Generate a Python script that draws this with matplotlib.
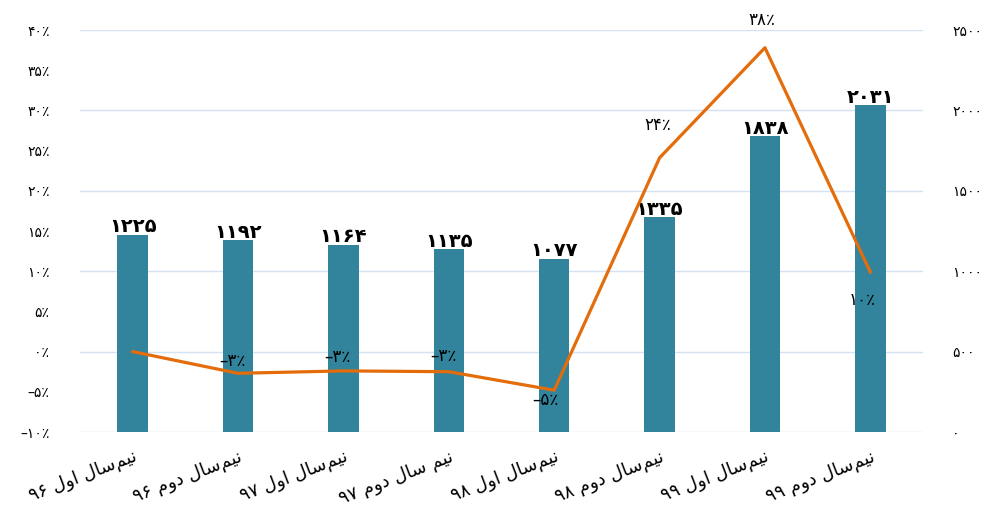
import matplotlib
matplotlib.use("Agg")
import matplotlib.pyplot as plt
from matplotlib.ticker import FuncFormatter, MultipleLocator

# داده ها
categories = ["نیم‌سال اول ۹۶", "نیم‌سال دوم ۹۶", "نیم‌سال اول ۹۷", "نیم سال دوم ۹۷",
              "نیم‌سال اول ۹۸", "نیم‌سال دوم ۹۸", "نیم‌سال اول ۹۹", "نیم‌سال دوم ۹۹"]
counts = [1225, 1192, 1164, 1135, 1077, 1335, 1838, 2031]
growth = [0.0, -2.7, -2.4, -2.5, -4.8, 24.1, 37.8, 9.9]
growth_labels = [None, -3, -3, -3, -5, 24, 38, 10]

# offsets of the growth labels (points)
label_offsets = [(0, 0), (-4, 9), (-4, 10), (-4, 11), (-6, -7), (-1, 24), (-2, 20), (-6, -20)]

FA_DIGITS = str.maketrans("0123456789-", "۰۱۲۳۴۵۶۷۸۹–")

# shaping of persian letters: (isolated, final, initial, medial)
FORMS = {
    "ن": ("\ufee5", "\ufee6", "\ufee7", "\ufee8"),
    "ی": ("\ufbfc", "\ufbfd", "\ufbfe", "\ufbff"),
    "م": ("\ufee1", "\ufee2", "\ufee3", "\ufee4"),
    "س": ("\ufeb1", "\ufeb2", "\ufeb3", "\ufeb4"),
    "ل": ("\ufedd", "\ufede", "\ufedf", "\ufee0"),
    "ا": ("\ufe8d", "\ufe8e", None, None),
    "و": ("\ufeed", "\ufeee", None, None),
    "د": ("\ufea9", "\ufeaa", None, None),
}
DUAL = {c for c, f in FORMS.items() if f[2] is not None}


def shape_word(word):
    out = []
    for i, ch in enumerate(word):
        if ch not in FORMS:
            continue
        prev = i > 0 and word[i - 1] in DUAL
        nxt = ch in DUAL and i + 1 < len(word) and word[i + 1] in FORMS
        iso, fin, ini, med = FORMS[ch]
        if prev and nxt:
            out.append(med)
        elif prev:
            out.append(fin)
        elif nxt:
            out.append(ini)
        else:
            out.append(iso)
    return "".join(reversed(out))


def rtl(text):
    words = text.split(" ")
    vis = []
    for w in reversed(words):
        if any(c in FORMS for c in w):
            vis.append(shape_word(w))
        else:
            vis.append(w)
    return " ".join(vis)


def fa(v, pct=False):
    s = str(v).translate(FA_DIGITS)
    return s + "٪" if pct else s


plt.rcParams["font.family"] = ["DejaVu Sans"]

fig = plt.figure(figsize=(9.93, 5.11), dpi=100)
ax = fig.add_axes([80 / 993, 79 / 511, 843 / 993, 402 / 511])
ax2 = ax.twinx()
ax.set_zorder(ax2.get_zorder() + 1)
ax.patch.set_visible(False)

x = list(range(len(categories)))

# ستون ها
bars = ax2.bar(x, counts, width=0.29, color="#31849B", zorder=2)
for xi, c in zip(x, counts):
    ax2.annotate(fa(c), (xi, c), xytext=(0, -1), textcoords="offset points",
                 ha="center", va="bottom", fontsize=14, fontweight="bold", color="black")

# خط رشد
ax.plot(x, growth, color="#E46C0A", linewidth=2.3, zorder=3)
for xi, g, lab, off in zip(x, growth, growth_labels, label_offsets):
    if lab is None:
        continue
    ax.annotate(fa(lab, True), (xi, g), xytext=off, textcoords="offset points",
                ha="center", va="center", fontsize=12, color="black")

ax.set_xlim(-0.5, len(categories) - 0.5)
ax.set_ylim(-10, 40)
ax2.set_ylim(0, 2500)
ax.yaxis.set_major_locator(MultipleLocator(5))
ax2.yaxis.set_major_locator(MultipleLocator(500))
ax.yaxis.set_major_formatter(FuncFormatter(lambda v, p: fa(int(round(v)), True)))
ax2.yaxis.set_major_formatter(FuncFormatter(lambda v, p: fa(int(round(v)))))

ax2.set_axisbelow(True)
ax2.grid(axis="y", color="#D5E2F4", linewidth=1)
ax.grid(False)

for a in (ax, ax2):
    for s in a.spines.values():
        s.set_visible(False)

ax.tick_params(axis="y", length=0, pad=22, labelsize=10)
ax2.tick_params(axis="y", length=0, pad=21, labelsize=10)

ax.set_xticks(x)
ax.set_xticklabels([rtl(c) for c in categories], rotation=21, ha="right",
                   rotation_mode="anchor", fontsize=13)
ax.tick_params(axis="x", length=0, pad=11)

fig.savefig("out.png", dpi=100, facecolor="white")
